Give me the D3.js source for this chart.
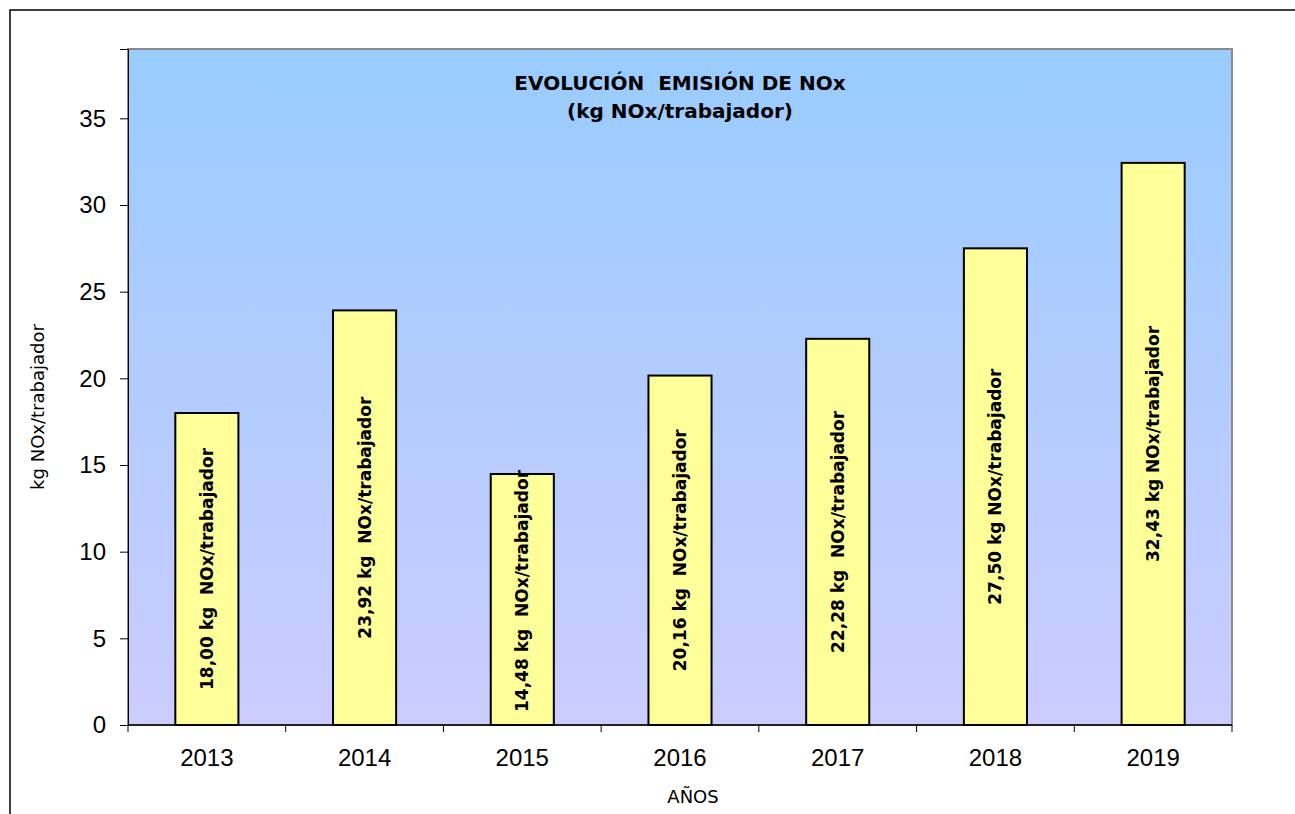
<!DOCTYPE html>
<html>
<head>
<meta charset="utf-8">
<script src="https://cdn.jsdelivr.net/npm/d3@7"></script>
<style>
    body { margin: 0; background: #fff; }
    svg { display: block; }
</style>
</head>
<body>
<div id="chart"></div>
<script>
const years = ['2013', '2014', '2015', '2016', '2017', '2018', '2019'];
const values = [18.00, 23.92, 14.48, 20.16, 22.28, 27.50, 32.43];
const labels = [
    '18,00 kg  NOx/trabajador',
    '23,92 kg  NOx/trabajador',
    '14,48 kg  NOx/trabajador',
    '20,16 kg  NOx/trabajador',
    '22,28 kg  NOx/trabajador',
    '27,50 kg NOx/trabajador',
    '32,43 kg NOx/trabajador'
];
const yTicks = [0, 5, 10, 15, 20, 25, 30, 35];

const width = 1295, height = 814;
const margin = {left: 128, right: 63, top: 49, bottom: 89};
const plotW = width - margin.left - margin.right;
const plotH = height - margin.top - margin.bottom;
const gothic = '"URW Gothic", "Century Gothic", "DejaVu Sans", sans-serif';

const svg = d3.select('#chart').append('svg')
    .attr('width', width)
    .attr('height', height);

// gradient fill of the plot area
const grad = svg.append('defs').append('linearGradient')
    .attr('id', 'bg').attr('x1', 0).attr('y1', 0).attr('x2', 0).attr('y2', 1);
grad.append('stop').attr('offset', '0%').attr('stop-color', '#99ccff');
grad.append('stop').attr('offset', '100%').attr('stop-color', '#ccccff');

// outer chart border
svg.append('rect')
    .attr('x', 10).attr('y', 10)
    .attr('width', width + 20).attr('height', height + 20)
    .attr('fill', 'none').attr('stroke', '#000').attr('stroke-width', 1.5);

const chart = svg.append('g')
    .attr('transform', `translate(${margin.left}, ${margin.top})`);

const xScale = d3.scaleBand()
    .domain(years)
    .range([0, plotW])
    .paddingInner(0.6)
    .paddingOuter(0.3);

const yScale = d3.scaleLinear()
    .domain([0, 39])
    .range([plotH, 0]);

chart.append('rect')
    .attr('width', plotW).attr('height', plotH)
    .attr('fill', 'url(#bg)')
    .attr('stroke', '#8a8a8a').attr('stroke-width', 2);

// title
chart.append('text')
    .attr('x', plotW / 2).attr('y', 41)
    .attr('text-anchor', 'middle')
    .style('font-family', gothic)
    .style('font-weight', 'bold').style('font-size', '20px')
    .style('white-space', 'pre')
    .text('EVOLUCIÓN  EMISIÓN DE NOx');
chart.append('text')
    .attr('x', plotW / 2).attr('y', 69)
    .attr('text-anchor', 'middle')
    .style('font-family', gothic)
    .style('font-weight', 'bold').style('font-size', '20px')
    .text('(kg NOx/trabajador)');

// bars
chart.selectAll('.bar')
    .data(values)
    .enter()
    .append('rect')
    .attr('class', 'bar')
    .attr('x', (d, i) => xScale(years[i]))
    .attr('y', d => yScale(d))
    .attr('width', xScale.bandwidth())
    .attr('height', d => plotH - yScale(d))
    .attr('fill', '#ffff99')
    .attr('stroke', '#000')
    .attr('stroke-width', 2);

// rotated labels inside the bars
const barLabels = chart.selectAll('.bar-label')
    .data(values)
    .enter()
    .append('text')
    .attr('class', 'bar-label')
    .attr('text-anchor', 'middle')
    .attr('dominant-baseline', 'central')
    .style('font-family', gothic)
    .style('font-weight', 'bold').style('font-size', '17px')
    .style('white-space', 'pre')
    .text((d, i) => labels[i]);

barLabels.each(function(d, i) {
    const len = this.getComputedTextLength();
    let cy = (yScale(d) + plotH) / 2;
    cy = Math.min(cy, plotH - 13 - len / 2);
    const cx = xScale(years[i]) + xScale.bandwidth() / 2;
    d3.select(this).attr('transform', `translate(${cx}, ${cy}) rotate(-90)`);
});

// axes
const yAxis = d3.axisLeft(yScale).tickValues(yTicks).tickSize(8).tickPadding(14);
const gy = chart.append('g').call(yAxis);
gy.select('.domain').attr('stroke', '#000');
gy.selectAll('text')
    .style('font-family', '"Liberation Sans", Arial, sans-serif')
    .style('font-size', '24px').attr('fill', '#000');

const boundaries = d3.range(years.length + 1).map(i => i * xScale.step());
const gx = chart.append('g').attr('transform', `translate(0, ${plotH})`);
gx.append('line').attr('x1', 0).attr('x2', plotW).attr('stroke', '#000').attr('stroke-width', 1.5);
gx.selectAll('.xtick')
    .data(boundaries)
    .enter()
    .append('line')
    .attr('x1', d => d).attr('x2', d => d)
    .attr('y1', 0).attr('y2', 7)
    .attr('stroke', '#000');
gx.selectAll('.xlabel')
    .data(years)
    .enter()
    .append('text')
    .attr('x', d => xScale(d) + xScale.bandwidth() / 2)
    .attr('y', 41)
    .attr('text-anchor', 'middle')
    .style('font-family', '"Liberation Sans", Arial, sans-serif')
    .style('font-size', '24px')
    .text(d => d);

// axis titles
svg.append('text')
    .attr('transform', `translate(44, 407) rotate(-90)`)
    .attr('text-anchor', 'middle')
    .style('font-family', '"DejaVu Sans", sans-serif')
    .style('font-size', '18px')
    .text('kg NOx/trabajador');

svg.append('text')
    .attr('x', 693).attr('y', 803)
    .attr('text-anchor', 'middle')
    .style('font-family', gothic)
    .style('font-size', '18px')
    .text('AÑOS');
</script>
</body>
</html>
